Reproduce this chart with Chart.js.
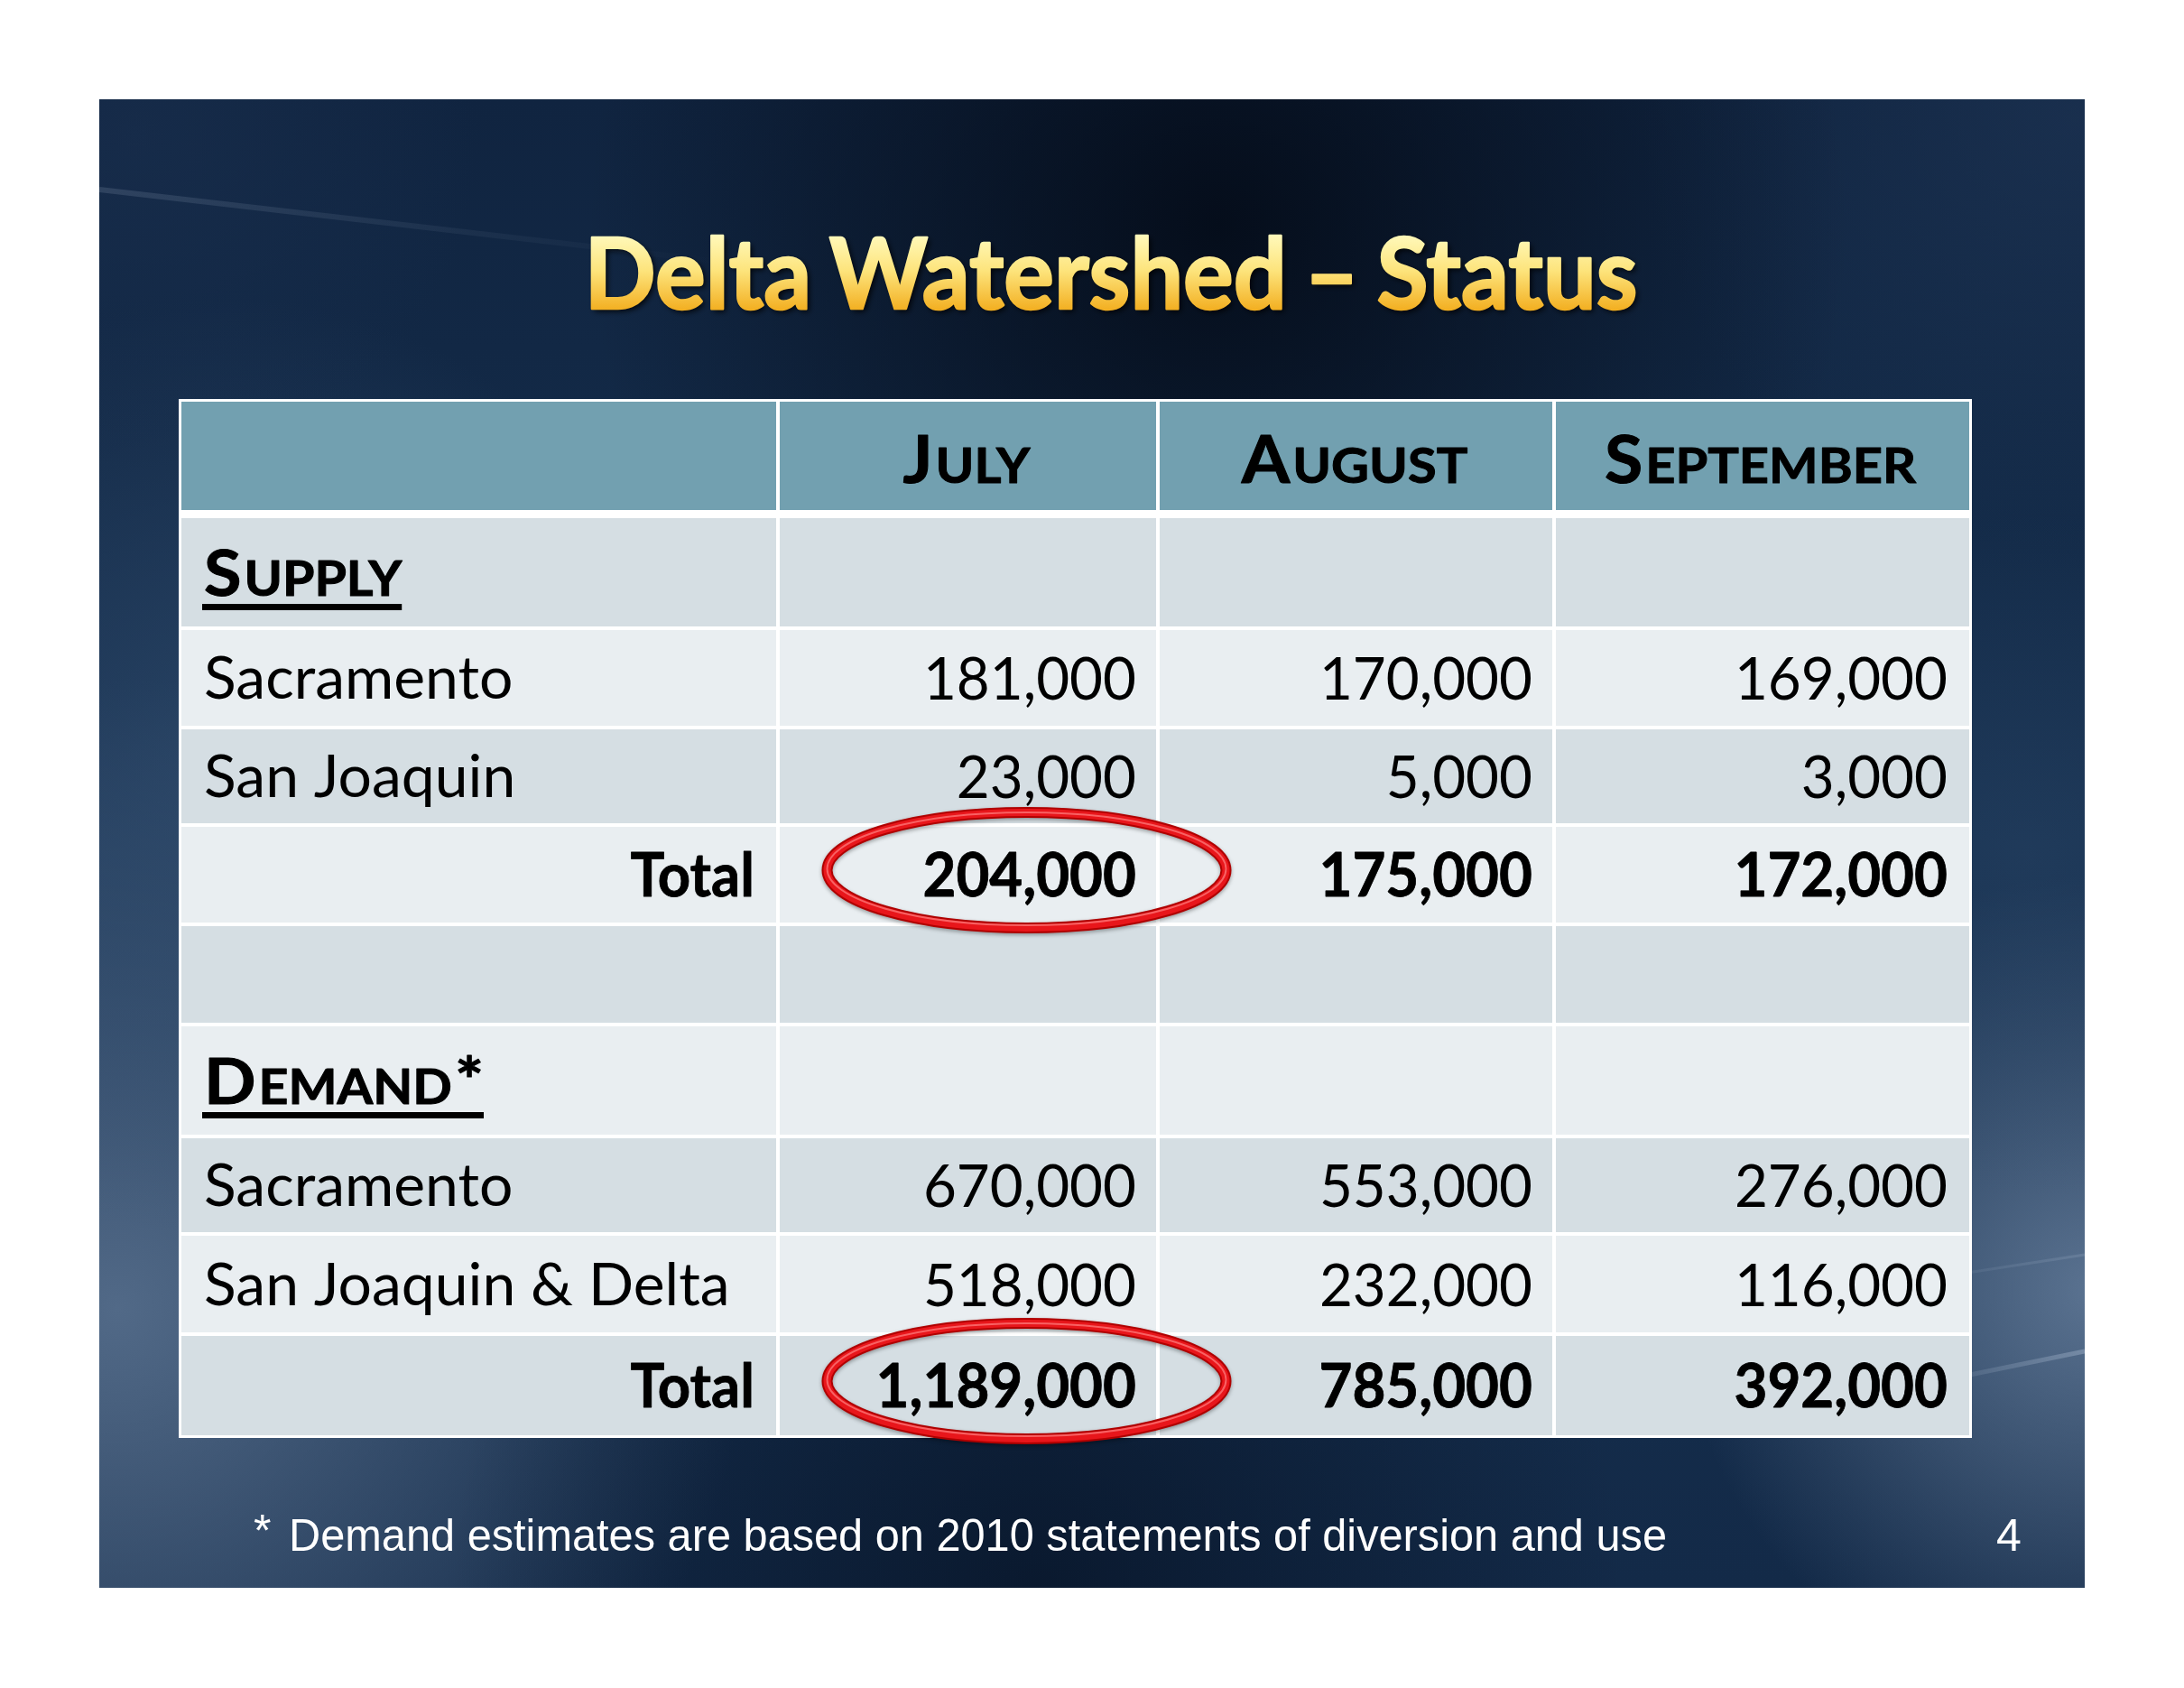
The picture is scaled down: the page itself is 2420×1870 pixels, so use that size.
<!DOCTYPE html>
<html>
<head>
<meta charset="utf-8">
<title>Delta Watershed – Status</title>
<script src="https://cdn.jsdelivr.net/npm/chart.js@4.4.1/dist/chart.umd.min.js"></script>
<style>
  html, body { margin: 0; padding: 0; background: #fff; }
  #wrap { width: 2420px; height: 1870px; }
</style>
</head>
<body>
<div id="wrap"><canvas id="myChart" width="2420" height="1870"></canvas></div>
<script>
/*global Chart */

// DATA

const title = 'Delta Watershed – Status';
const months = ['July', 'August', 'September'];
const sections = ['Supply', 'Demand*'];
const supplyLabels = ['Sacramento', 'San Joaquin'];
const demandLabels = ['Sacramento', 'San Joaquin & Delta'];
const totalLabel = 'Total';

const supplySacramento = [181000, 170000, 169000];
const supplySanJoaquin = [23000, 5000, 3000];
const supplyTotal = [204000, 175000, 172000];

const demandSacramento = [670000, 553000, 276000];
const demandSanJoaquinDelta = [518000, 232000, 116000];
const demandTotal = [1189000, 785000, 392000];

const footnoteMark = '*';
const footnote = 'Demand estimates are based on 2010 statements of diversion and use';
const pageNumber = '4';

// LAYOUT (table units = pixels from the table's top left corner)

const colEdges = [0, 661, 1082, 1521, 1981];
const rowBands = [
  [0, 120], [129, 249], [253, 359], [363, 467], [471, 577],
  [581, 688], [692, 812], [816, 920], [924, 1031], [1035, 1145]
];
const CELL_PAD = 24;
const FONT = 'Lato';
const SANS = '"Liberation Sans", Arial, sans-serif';

const rows = [
  { kind: 'head' },
  { kind: 'section', label: sections[0] },
  { kind: 'item', label: supplyLabels[0], values: supplySacramento },
  { kind: 'item', label: supplyLabels[1], values: supplySanJoaquin },
  { kind: 'total', label: totalLabel, values: supplyTotal, circled: 0 },
  { kind: 'blank' },
  { kind: 'section', label: sections[1] },
  { kind: 'item', label: demandLabels[0], values: demandSacramento },
  { kind: 'item', label: demandLabels[1], values: demandSanJoaquinDelta },
  { kind: 'total', label: totalLabel, values: demandTotal, circled: 0 }
];

function rowCenter(r) {
  return (rowBands[r][0] + rowBands[r][1]) / 2;
}

// TEXT HELPERS

function drawText(ctx, text, x, y, align, font, sx, strokeWidth) {
  ctx.font = font;
  const w = ctx.measureText(text).width * sx;
  const left = align === 'center' ? x - w / 2 : align === 'right' ? x - w : x;
  ctx.save();
  ctx.translate(left, y);
  ctx.scale(sx, 1);
  ctx.textAlign = 'left';
  ctx.textBaseline = 'alphabetic';
  ctx.fillText(text, 0, 0);
  if (strokeWidth) {
    ctx.shadowColor = 'transparent';
    ctx.strokeStyle = ctx.fillStyle;
    ctx.lineWidth = strokeWidth;
    ctx.lineJoin = 'round';
    ctx.strokeText(text, 0, 0);
  }
  ctx.restore();
  return { left: left, right: left + w };
}

// small caps: capitals (and marks) at full size, lower case as smaller capitals
function drawSmallCaps(ctx, text, x, y, align, big, small, sx) {
  const runs = [];
  for (const ch of text) {
    const lower = ch !== ch.toUpperCase();
    const size = lower ? small : big;
    const last = runs[runs.length - 1];
    if (last && last.size === size) {
      last.s += ch.toUpperCase();
    } else {
      runs.push({ s: ch.toUpperCase(), size: size });
    }
  }
  let w = 0;
  runs.forEach(function (run) {
    ctx.font = 'bold ' + run.size + 'px ' + FONT;
    run.w = ctx.measureText(run.s).width * sx + 3;
    w += run.w;
  });
  let cx = align === 'center' ? x - w / 2 : align === 'right' ? x - w : x;
  const left = cx;
  runs.forEach(function (run) {
    drawText(ctx, run.s, cx, y, 'left', 'bold ' + run.size + 'px ' + FONT, sx, 1);
    cx += run.w;
  });
  return { left: left, right: cx - 3 };
}

// SLIDE BACKGROUND

function glow(ctx, x, y, r, color) {
  const g = ctx.createRadialGradient(x, y, 0, x, y, r);
  g.addColorStop(0, color);
  g.addColorStop(1, color.replace(/[\d.]+\)$/, '0)'));
  ctx.fillStyle = g;
  ctx.fillRect(x - r, y - r, r * 2, r * 2);
}

function streak(ctx, x1, y1, x2, y2, width, alpha) {
  const g = ctx.createLinearGradient(x1, y1, x2, y2);
  g.addColorStop(0, 'rgba(200,215,235,' + alpha + ')');
  g.addColorStop(1, 'rgba(200,215,235,0)');
  ctx.strokeStyle = g;
  ctx.lineWidth = width;
  ctx.beginPath();
  ctx.moveTo(x1, y1);
  ctx.lineTo(x2, y2);
  ctx.stroke();
}

function paintSlide(ctx) {
  const L = 110, T = 110, W = 2200, H = 1649;
  ctx.fillStyle = '#ffffff';
  ctx.fillRect(0, 0, 2420, 1870);
  ctx.save();
  ctx.beginPath();
  ctx.rect(L, T, W, H);
  ctx.clip();
  const base = ctx.createLinearGradient(0, T, 0, T + H);
  base.addColorStop(0, '#102440');
  base.addColorStop(0.5, '#16304f');
  base.addColorStop(1, '#132a48');
  ctx.fillStyle = base;
  ctx.fillRect(L, T, W, H);

  glow(ctx, 130, 1450, 700, 'rgba(92,116,146,0.85)');
  glow(ctx, 250, 850, 520, 'rgba(52,80,114,0.6)');
  glow(ctx, 2320, 1430, 460, 'rgba(108,132,162,0.8)');
  glow(ctx, 2250, 950, 380, 'rgba(50,78,112,0.35)');
  glow(ctx, 2300, 130, 480, 'rgba(36,60,94,0.45)');
  glow(ctx, 1350, 250, 700, 'rgba(3,9,20,0.85)');
  glow(ctx, 1150, 1760, 650, 'rgba(6,18,36,0.7)');
  glow(ctx, 150, 150, 380, 'rgba(28,50,82,0.5)');

  streak(ctx, 110, 210, 800, 290, 6, 0.14);
  streak(ctx, 2310, 1497, 2100, 1540, 5, 0.3);
  streak(ctx, 2310, 1390, 2050, 1430, 3, 0.15);
  ctx.restore();

  // title with yellow gradient and dark shadow
  ctx.save();
  const tFont = 'bold 110px ' + FONT;
  ctx.font = tFont;
  if ('wordSpacing' in ctx) ctx.wordSpacing = '-6px';
  const tw = ctx.measureText(title).width;
  // gradient in the text's local coordinates (origin at baseline)
  const tg = ctx.createLinearGradient(0, -80, 0, 4);
  tg.addColorStop(0, '#fff8b8');
  tg.addColorStop(0.45, '#fde47c');
  tg.addColorStop(1, '#f2ac1c');
  ctx.fillStyle = tg;
  ctx.shadowColor = 'rgba(0,0,0,0.85)';
  ctx.shadowOffsetX = 3;
  ctx.shadowOffsetY = 3;
  ctx.shadowBlur = 6;
  drawText(ctx, title, 1231, 342, 'center', tFont, 1167 / tw, 2.5);
  ctx.restore();

  // footnote and page number
  ctx.save();
  ctx.fillStyle = '#ffffff';
  const fFont = '50px ' + SANS;
  ctx.font = fFont;
  const fw = ctx.measureText(footnote).width;
  drawText(ctx, footnoteMark, 281, 1713, 'left', fFont, 1);
  drawText(ctx, footnote, 320, 1718, 'left', fFont, 1527 / fw);
  drawText(ctx, pageNumber, 2226, 1718, 'center', fFont, 1);
  ctx.restore();
}

// TABLE

const tablePlugin = {
  id: 'table',
  beforeDraw(chart) {
    const ctx = chart.ctx;
    const x = chart.scales.x;
    const y = chart.scales.y;
    paintSlide(ctx);

    // white frame and grid lines
    ctx.fillStyle = '#ffffff';
    ctx.fillRect(x.getPixelForValue(0) - 3, y.getPixelForValue(0) - 3,
      x.getPixelForValue(colEdges[4]) - x.getPixelForValue(0) + 6,
      y.getPixelForValue(rowBands[9][1]) - y.getPixelForValue(0) + 6);

    rows.forEach(function (row, r) {
      const fill = r === 0 ? '#72a0b0' : (r % 2 === 1 ? '#d5dee3' : '#e9eef1');
      ctx.fillStyle = fill;
      for (let c = 0; c < 4; c++) {
        const x0 = x.getPixelForValue(colEdges[c]) + (c === 0 ? 0 : 2);
        const x1 = x.getPixelForValue(colEdges[c + 1]) - (c === 3 ? 0 : 2);
        const y0 = y.getPixelForValue(rowBands[r][0]);
        const y1 = y.getPixelForValue(rowBands[r][1]);
        ctx.fillRect(x0, y0, x1 - x0, y1 - y0);
      }
    });
  },
  afterDatasetsDraw(chart) {
    const ctx = chart.ctx;
    const x = chart.scales.x;
    const y = chart.scales.y;
    ctx.save();
    ctx.fillStyle = '#000000';

    // header
    months.forEach(function (m, i) {
      const cx = x.getPixelForValue((colEdges[i + 1] + colEdges[i + 2]) / 2);
      drawSmallCaps(ctx, m, cx, y.getPixelForValue(rowCenter(0)) + 30, 'center', 72, 54, 1.07);
    });

    // row labels
    rows.forEach(function (row, r) {
      const cy = y.getPixelForValue(rowCenter(r));
      if (row.kind === 'section') {
        const span = drawSmallCaps(ctx, row.label, x.getPixelForValue(CELL_PAD + 1), cy + 26, 'left', 70, 53, 1.08);
        ctx.fillRect(span.left - 2, cy + 35, span.right - span.left + 2, 7);
      } else if (row.kind === 'item') {
        drawText(ctx, row.label, x.getPixelForValue(CELL_PAD + 1), cy + 23, 'left', '66px ' + FONT, 1);
      } else if (row.kind === 'total') {
        drawText(ctx, row.label, x.getPixelForValue(colEdges[1] - CELL_PAD - 2), cy + 24, 'right', 'bold 66px ' + FONT, 0.96, 0.8);
      }
    });

    // values, placed by the scatter points
    chart.data.datasets.forEach(function (ds, i) {
      const meta = chart.getDatasetMeta(i);
      meta.data.forEach(function (pt, j) {
        const v = ds.data[j].v;
        const font = (ds.bold ? 'bold ' : '') + '66px ' + FONT;
        drawText(ctx, v.toLocaleString('en-US'), pt.x, pt.y + 24, 'right', font, 0.965, ds.bold ? 0.8 : 0);
      });
    });

    // red circles round the July totals
    rows.forEach(function (row, r) {
      if (row.circled === undefined) return;
      const c = row.circled;
      const cx = x.getPixelForValue((colEdges[c + 1] + colEdges[c + 2]) / 2) + 65;
      const cy = y.getPixelForValue(rowCenter(r)) - 5;
      ctx.save();
      ctx.beginPath();
      ctx.ellipse(cx, cy, 221, 64, 0, 0, Math.PI * 2);
      ctx.shadowColor = 'rgba(0,0,0,0.35)';
      ctx.shadowBlur = 4;
      ctx.shadowOffsetY = 2;
      ctx.lineWidth = 12;
      ctx.strokeStyle = '#b00000';
      ctx.stroke();
      ctx.shadowColor = 'transparent';
      ctx.lineWidth = 8;
      ctx.strokeStyle = '#e8161b';
      ctx.stroke();
      ctx.beginPath();
      ctx.ellipse(cx, cy - 1.5, 221, 62.5, 0, 0, Math.PI * 2);
      ctx.lineWidth = 2;
      ctx.strokeStyle = 'rgba(255,130,130,0.7)';
      ctx.stroke();
      ctx.restore();
    });
    ctx.restore();
  }
};

const datasets = [];
rows.forEach(function (row, r) {
  if (!row.values) return;
  datasets.push({
    label: row.label,
    bold: row.kind === 'total',
    pointRadius: 0,
    data: row.values.map(function (v, j) {
      return { x: colEdges[j + 2] - CELL_PAD, y: rowCenter(r), v: v };
    })
  });
});

const ctx = document.getElementById('myChart').getContext('2d');

const chart = new Chart(ctx, {
  type: 'scatter',
  data: { datasets: datasets },
  options: {
    responsive: false,
    devicePixelRatio: 1,
    animation: false,
    events: [],
    layout: { padding: { left: 201, right: 238, top: 445, bottom: 280 } },
    plugins: { legend: { display: false }, tooltip: { enabled: false } },
    scales: {
      x: { type: 'linear', min: 0, max: colEdges[4], display: false },
      y: { type: 'linear', min: 0, max: rowBands[9][1], reverse: true, display: false }
    }
  },
  plugins: [tablePlugin]
});
console.log(chart);
</script>
</body>
</html>
